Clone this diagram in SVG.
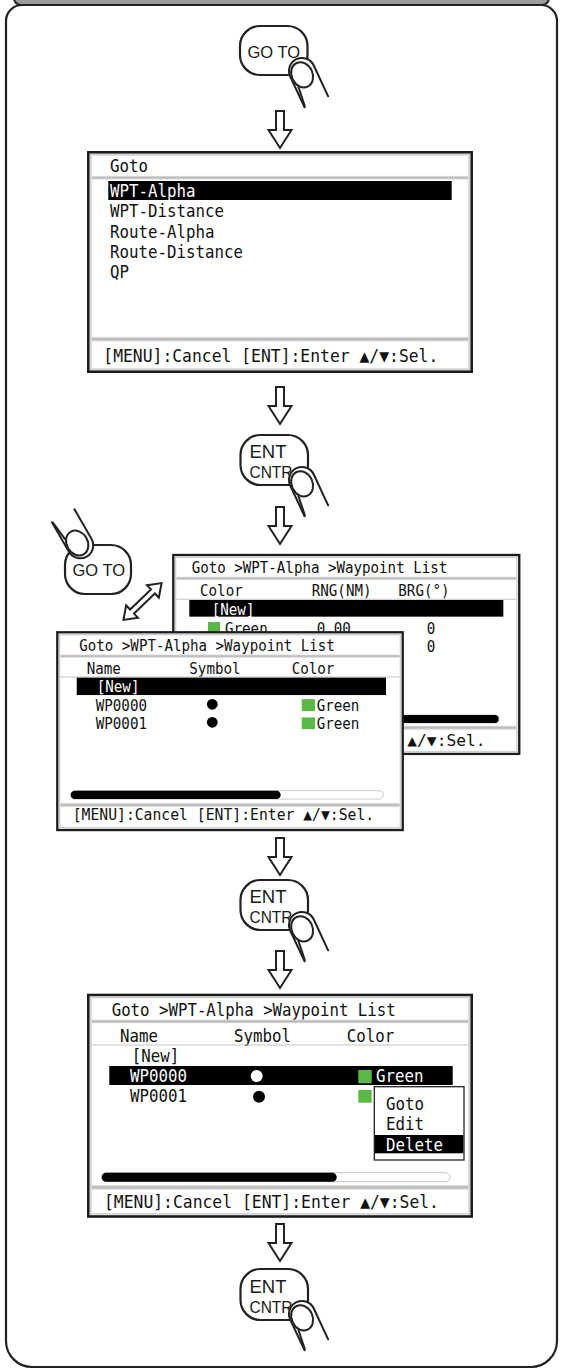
<svg xmlns="http://www.w3.org/2000/svg" xmlns:xlink="http://www.w3.org/1999/xlink" width="563" height="1372" viewBox="0 0 563 1372">
<defs>
<style>
.frame{fill:#fff;stroke:#222;stroke-width:2.2}
.band{fill:#9b9b9b;stroke:#222;stroke-width:2}
.btn{fill:#fff;stroke:#222;stroke-width:2.2}
.bt{font-family:"Liberation Sans",Arial,sans-serif;fill:#1a1a1a}
.arr{fill:#fff;stroke:#222;stroke-width:2;stroke-linejoin:miter}
.fg{fill:none;stroke:#222;stroke-width:2;stroke-linecap:round;stroke-linejoin:round}
.fgf{fill:#fff;stroke:none}
.sb{fill:#fff;stroke:#1c1c1c;stroke-width:2.6}
.si{fill:none;stroke:#cdd1d4;stroke-width:1.6}
.m{font-family:"DejaVu Sans Mono","Liberation Mono",monospace;font-size:17.5px;fill:#111}
.w{fill:#fff}
.hl{fill:#000}
.gsq{fill:#5cb846}
.sep{fill:url(#sepg)}
.hsep{stroke:#c4c4c4;stroke-width:1.2}
.trk{fill:#fff;stroke:#c4c4c4;stroke-width:1}
.pop{fill:#fff;stroke:#222;stroke-width:1.3}
</style>
<linearGradient id="sepg" x1="0" y1="0" x2="0" y2="1">
<stop offset="0" stop-color="#e6e6e6"/>
<stop offset="0.5" stop-color="#b4b4b4"/>
<stop offset="1" stop-color="#eeeeee"/>
</linearGradient>
<g id="finger">
<path class="fgf" d="M -13,34 L -13,0 A 13,13 0 0 1 13,0 L 13,34 Z"/>
<path class="fg" d="M -13,34 L -13,0 A 13,13 0 0 1 13,0 L 13,34"/>
<ellipse class="fg" cx="-1.5" cy="3.5" rx="10.5" ry="13"/>
<path class="fg" d="M -10,13 L -12.3,33"/>
</g>
<polygon id="darr" class="arr" points="-4,0 4,0 4,19 11.5,19 0,37 -11.5,19 -4,19"/>
</defs>

<g id="frame">
<path class="frame" d="M 22,5 H 541 A 16,16 0 0 1 557,21 V 1341 A 26,26 0 0 1 531,1367 H 32 A 26,26 0 0 1 6,1341 V 21 A 16,16 0 0 1 22,5 Z"/>
<rect class="band" x="14" y="-14" width="535" height="19" rx="7"/>
</g>

<g id="connectors">
<use xlink:href="#darr" href="#darr" transform="translate(280,111)"/>
<use xlink:href="#darr" href="#darr" transform="translate(280,387)"/>
<use xlink:href="#darr" href="#darr" transform="translate(280,507)"/>
<use xlink:href="#darr" href="#darr" transform="translate(280,838)"/>
<use xlink:href="#darr" href="#darr" transform="translate(280,951)"/>
<use xlink:href="#darr" href="#darr" transform="translate(280,1224)"/>
<polygon class="arr" transform="translate(142.5,601.5) rotate(-44)" points="-26.5,0 -14.5,-8.5 -14.5,-2.8 14.5,-2.8 14.5,-8.5 26.5,0 14.5,8.5 14.5,2.8 -14.5,2.8 -14.5,8.5"/>
</g>

<g id="btn-goto-1">
<rect class="btn" x="240" y="26" width="67.5" height="49" rx="20"/>
<text class="bt" x="247.5" y="58.3" font-size="16.5">GO TO</text>
<use xlink:href="#finger" href="#finger" transform="translate(302,71) rotate(-25)"/>
</g>

<g id="screen-goto" transform="translate(88.3,152.3)">
<rect class="sb" x="0" y="0" width="383.4" height="219.4"/>
<rect class="si" x="2.6" y="2.6" width="378.2" height="214.2"/>
<text class="m" x="21.7" y="19.4" textLength="38" lengthAdjust="spacingAndGlyphs">Goto</text>
<rect class="sep" x="3.4" y="23.5" width="376.6" height="4"/>
<rect class="hl" x="20" y="28.7" width="343.4" height="19"/>
<text class="m w" x="21.7" y="44.5" textLength="85.5" lengthAdjust="spacingAndGlyphs">WPT-Alpha</text>
<text class="m" x="21.7" y="65" textLength="114" lengthAdjust="spacingAndGlyphs">WPT-Distance</text>
<text class="m" x="21.7" y="85.5" textLength="104.5" lengthAdjust="spacingAndGlyphs">Route-Alpha</text>
<text class="m" x="21.7" y="106" textLength="133" lengthAdjust="spacingAndGlyphs">Route-Distance</text>
<text class="m" x="21.7" y="126" textLength="19" lengthAdjust="spacingAndGlyphs">QP</text>
<rect class="sep" x="3.4" y="184.5" width="376.6" height="5"/>
<text class="m" x="15" y="209.5" textLength="335" lengthAdjust="spacingAndGlyphs">[MENU]:Cancel [ENT]:Enter ▲/▼:Sel.</text>
</g>

<g id="btn-ent-1">
<rect class="btn" x="240.5" y="435" width="67.5" height="50" rx="20"/>
<text class="bt" x="249.5" y="458" font-size="18.5">ENT</text>
<text class="bt" x="249.5" y="477.7" font-size="17" textLength="43" lengthAdjust="spacingAndGlyphs">CNTR</text>
<use xlink:href="#finger" href="#finger" transform="translate(302,480) rotate(-25)"/>
</g>

<g id="btn-goto-2">
<rect class="btn" x="65" y="545" width="66" height="49" rx="20"/>
<text class="bt" x="72.5" y="576" font-size="16.5">GO TO</text>
<use xlink:href="#finger" href="#finger" transform="translate(80.2,545.3) rotate(150) scale(-1,1)"/>
</g>

<g id="screen-wpt-list-back" transform="translate(173.3,555) scale(0.9)">
<rect class="sb" x="0" y="0" width="384.4" height="221"/>
<rect class="si" x="2.6" y="2.6" width="379.2" height="215.8"/>
<text class="m" x="20.4" y="20.3" textLength="284" lengthAdjust="spacingAndGlyphs">Goto &gt;WPT-Alpha &gt;Waypoint List</text>
<rect class="sep" x="3.4" y="24" width="377.6" height="4"/>
<text class="m" x="29.7" y="45" textLength="47.5" lengthAdjust="spacingAndGlyphs">Color</text>
<text class="m" x="153.8" y="45" textLength="66.5" lengthAdjust="spacingAndGlyphs">RNG(NM)</text>
<text class="m" x="250" y="45" textLength="57" lengthAdjust="spacingAndGlyphs">BRG(°)</text>
<line class="hsep" x1="3.4" y1="49.2" x2="381" y2="49.2"/>
<rect class="hl" x="17.8" y="50" width="348.9" height="18.5"/>
<text class="m w" x="42.7" y="66.2" textLength="47.5" lengthAdjust="spacingAndGlyphs">[New]</text>
<rect class="gsq" x="38.5" y="74.5" width="13.5" height="13"/>
<text class="m" x="57.4" y="87.4" textLength="47.5" lengthAdjust="spacingAndGlyphs">Green</text>
<text class="m" x="159.3" y="87.4" textLength="38" lengthAdjust="spacingAndGlyphs">0.00</text>
<text class="m" x="281.5" y="87.4" textLength="9.5" lengthAdjust="spacingAndGlyphs">0</text>
<text class="m" x="281.5" y="107.4" textLength="9.5" lengthAdjust="spacingAndGlyphs">0</text>
<rect class="trk" x="14" y="177.8" width="348" height="9" rx="4.5"/>
<rect class="hl" x="14" y="177.8" width="347.5" height="9" rx="4.5"/>
<rect class="sep" x="3.4" y="189.5" width="377.6" height="5"/>
<text class="m" x="260" y="212" textLength="87" lengthAdjust="spacingAndGlyphs">▲/▼:Sel.</text>
</g>

<g id="screen-wpt-list-front" transform="translate(57.3,632.3) scale(0.9)">
<rect class="sb" x="0" y="0" width="383.8" height="219.7"/>
<rect class="si" x="2.6" y="2.6" width="378.6" height="214.5"/>
<text class="m" x="24.4" y="20.8" textLength="284" lengthAdjust="spacingAndGlyphs">Goto &gt;WPT-Alpha &gt;Waypoint List</text>
<rect class="sep" x="3.4" y="24.5" width="377" height="4"/>
<text class="m" x="32.7" y="46.7" textLength="38" lengthAdjust="spacingAndGlyphs">Name</text>
<text class="m" x="146.7" y="46.7" textLength="57" lengthAdjust="spacingAndGlyphs">Symbol</text>
<text class="m" x="260.4" y="46.7" textLength="47.5" lengthAdjust="spacingAndGlyphs">Color</text>
<line class="hsep" x1="3.4" y1="49.6" x2="380.4" y2="49.6"/>
<rect class="hl" x="21.6" y="50.4" width="343.6" height="19.3"/>
<text class="m w" x="43.8" y="66" textLength="47.5" lengthAdjust="spacingAndGlyphs">[New]</text>
<text class="m" x="42.7" y="87.4" textLength="57" lengthAdjust="spacingAndGlyphs">WP0000</text>
<circle cx="172.2" cy="80" r="6" fill="#000"/>
<rect class="gsq" x="271.6" y="74.3" width="14.7" height="13.3"/>
<text class="m" x="288.2" y="87.4" textLength="47.5" lengthAdjust="spacingAndGlyphs">Green</text>
<text class="m" x="42.7" y="107.4" textLength="57" lengthAdjust="spacingAndGlyphs">WP0001</text>
<circle cx="172.2" cy="100" r="6" fill="#000"/>
<rect class="gsq" x="271.6" y="94.6" width="14.7" height="13"/>
<text class="m" x="288.2" y="107.4" textLength="47.5" lengthAdjust="spacingAndGlyphs">Green</text>
<rect class="trk" x="14.9" y="176" width="347.3" height="9.3" rx="4.6"/>
<rect class="hl" x="14.9" y="176" width="233.3" height="9.3" rx="4.6"/>
<rect class="sep" x="3.4" y="189.5" width="377" height="5"/>
<text class="m" x="17.1" y="208.6" textLength="335" lengthAdjust="spacingAndGlyphs">[MENU]:Cancel [ENT]:Enter ▲/▼:Sel.</text>
</g>

<g id="btn-ent-2">
<rect class="btn" x="240.5" y="880" width="67.5" height="50" rx="20"/>
<text class="bt" x="249.5" y="903" font-size="18.5">ENT</text>
<text class="bt" x="249.5" y="923" font-size="17" textLength="43" lengthAdjust="spacingAndGlyphs">CNTR</text>
<use xlink:href="#finger" href="#finger" transform="translate(302,925) rotate(-25)"/>
</g>

<g id="screen-wpt-list-menu" transform="translate(88.3,995)">
<rect class="sb" x="0" y="0" width="383.4" height="221.5"/>
<rect class="si" x="2.6" y="2.6" width="378.2" height="216.3"/>
<text class="m" x="23.4" y="21" textLength="284" lengthAdjust="spacingAndGlyphs">Goto &gt;WPT-Alpha &gt;Waypoint List</text>
<rect class="sep" x="3.4" y="24.5" width="376.6" height="4"/>
<text class="m" x="31.7" y="46.7" textLength="38" lengthAdjust="spacingAndGlyphs">Name</text>
<text class="m" x="145.7" y="46.7" textLength="57" lengthAdjust="spacingAndGlyphs">Symbol</text>
<text class="m" x="258.4" y="46.7" textLength="47.5" lengthAdjust="spacingAndGlyphs">Color</text>
<line class="hsep" x1="3.4" y1="50" x2="380" y2="50"/>
<text class="m" x="43.4" y="66.7" textLength="47.5" lengthAdjust="spacingAndGlyphs">[New]</text>
<rect class="hl" x="21" y="71" width="343.4" height="19"/>
<text class="m w" x="41.7" y="87.3" textLength="57" lengthAdjust="spacingAndGlyphs">WP0000</text>
<circle cx="168.4" cy="81" r="6" fill="#fff"/>
<rect class="gsq" x="270" y="75" width="13.4" height="13.3"/>
<text class="m w" x="287.7" y="87.3" textLength="47.5" lengthAdjust="spacingAndGlyphs">Green</text>
<text class="m" x="41.7" y="107.3" textLength="57" lengthAdjust="spacingAndGlyphs">WP0001</text>
<circle cx="170.7" cy="101.7" r="6" fill="#000"/>
<rect class="gsq" x="270" y="95" width="13.4" height="12.7"/>
<rect class="pop" x="286" y="91.7" width="89.7" height="73.3"/>
<text class="m" x="297.7" y="115" textLength="38" lengthAdjust="spacingAndGlyphs">Goto</text>
<text class="m" x="297.7" y="135" textLength="38" lengthAdjust="spacingAndGlyphs">Edit</text>
<rect class="hl" x="286.7" y="140" width="88.3" height="18.3"/>
<text class="m w" x="297.7" y="155.7" textLength="57" lengthAdjust="spacingAndGlyphs">Delete</text>
<rect class="trk" x="13.4" y="177.7" width="348.3" height="9" rx="4.5"/>
<rect class="hl" x="13.4" y="177.7" width="235" height="9" rx="4.5"/>
<rect class="sep" x="3.4" y="190" width="376.6" height="5"/>
<text class="m" x="15.7" y="213" textLength="335" lengthAdjust="spacingAndGlyphs">[MENU]:Cancel [ENT]:Enter ▲/▼:Sel.</text>
</g>

<g id="btn-ent-3">
<rect class="btn" x="240.5" y="1269" width="67.5" height="51" rx="20"/>
<text class="bt" x="249.5" y="1292.5" font-size="18.5">ENT</text>
<text class="bt" x="249.5" y="1312.5" font-size="17" textLength="43" lengthAdjust="spacingAndGlyphs">CNTR</text>
<use xlink:href="#finger" href="#finger" transform="translate(302,1314) rotate(-25)"/>
</g>
</svg>
